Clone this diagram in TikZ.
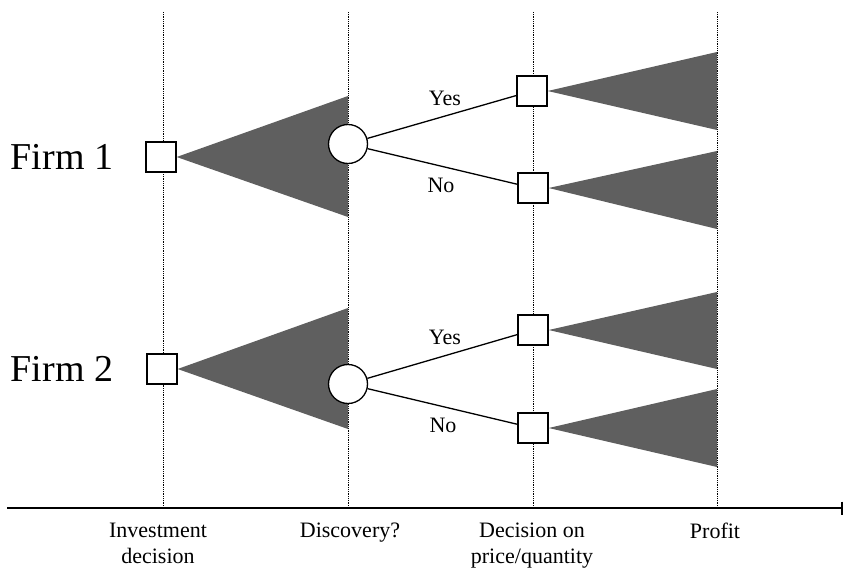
\documentclass[tikz,border=0pt]{standalone}
\usepackage{fontspec}
\setmainfont{Liberation Serif}
\usetikzlibrary{arrows.meta}
\definecolor{wedgegray}{HTML}{5F5F5F}

\begin{document}
\begin{tikzpicture}[x=1pt, y=-1pt, font=\fontsize{22}{26}\selectfont, decision/.style={draw, fill=white, line width=1.3pt, minimum size=30pt, inner sep=0pt}, chance/.style={circle, draw, fill=white, line width=1.3pt, minimum size=39pt, inner sep=0pt}, wedge/.style={fill=wedgegray}, stage/.style={densely dotted, line width=0.8pt}, firm/.style={font=\fontsize{38}{42}\selectfont}, stagelabel/.style={anchor=north, align=center, inner sep=0pt}]
\useasboundingbox (0,0) rectangle (844,570);
% stages and time axis
\foreach \x in {163,348,533,717}{\draw[stage] (\x,12) -- (\x,508);}
\draw[line width=1.8pt, -{Bar[width=13pt]}] (7,508) -- (843,508);
\node[stagelabel] (invest) at (158,523) {Investment\\decision};
\node[stagelabel] (discover) at (350,523) {Discovery?};
\node[stagelabel] (price) at (532,523) {Decision on\\price/quantity};
\node[stagelabel] (profit) at (715,523) {Profit};
% firms
\node[firm] (firm1) at (62,157) {Firm 1};
\node[firm] (firm2) at (62,369) {Firm 2};
\node[decision] (inv1) at (161,157) {};
\node[decision] (inv2) at (162,369) {};
\fill[wedge] (inv1.east) -- (348,96) -- (348,217) -- cycle;
\fill[wedge] (inv2.east) -- (348,308) -- (348,429) -- cycle;
\node[chance] (disc1) at (348,144) {};
\node[chance] (disc2) at (348,384) {};
\node[decision] (yes1) at (532,91) {};
\node[decision] (no1) at (533,188) {};
\node[decision] (yes2) at (533,330) {};
\node[decision] (no2) at (533,428) {};
\foreach \s/\a/\b in {yes1/52/130, no1/151/229, yes2/292/369, no2/389/467}{\fill[wedge] (\s.east) -- (717,\a) -- (717,\b) -- cycle;}
\foreach \c/\d in {disc1/yes1, disc1/no1, disc2/yes2, disc2/no2}{\draw[line width=1.3pt] (\c) -- (\d);}
\node (ylab1) at (445,98) {Yes};
\node (nlab1) at (441,185) {No};
\node (ylab2) at (445,337) {Yes};
\node (nlab2) at (443,425) {No};
\end{tikzpicture}
\end{document}
